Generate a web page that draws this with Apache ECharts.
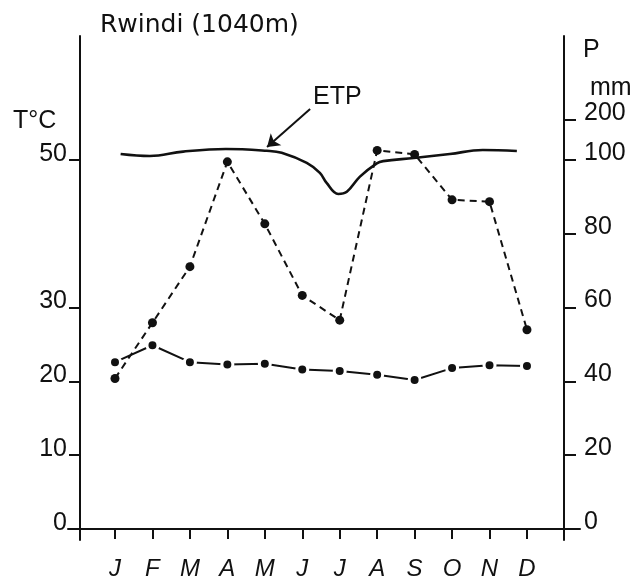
<!DOCTYPE html>
<html>
<head>
<meta charset="utf-8">
<script src="https://cdn.jsdelivr.net/npm/echarts@6/dist/echarts.min.js"></script>
<style>
  html, body { margin: 0; padding: 0; background: #fff; }
  #chart { width: 634px; height: 576px; }
</style>
</head>
<body>
<div id="chart"></div>
<script>
  var months = ['J', 'F', 'M', 'A', 'M', 'J', 'J', 'A', 'S', 'O', 'N', 'D'];
  // P (mm), monthly precipitation
  var precip = [40.8, 55.9, 71.1, 99.5, 82.7, 63.3, 56.6, 124, 114, 89.2, 88.7, 54];
  // T (°C), monthly mean temperature
  var temp = [22.6, 24.9, 22.6, 22.3, 22.4, 21.6, 21.4, 20.9, 20.2, 21.8, 22.2, 22.1];
  // ETP curve (mm), sampled along the month axis
  var etpMonth = [1.15, 1.93, 2.82, 3.96, 5.05, 5.45, 6.12, 6.47, 6.65, 6.96, 7.19, 7.54, 7.99, 8.16, 8.98, 9.94, 10.82, 11.73];
  var etpMm = [115, 110, 121, 127.5, 123, 118, 99.2, 96.5, 93.8, 90.8, 91.4, 95.5, 99.1, 99.7, 105, 115, 125, 122.5];

  var tempTicks = [0, 10, 20, 30, 50];
  var precipTicks = [0, 20, 40, 60, 80, 100, 200];

  // right axis is broken above 100 mm: 100..200 squeezed
  function toAxis(p) {
    return p <= 100 ? p : 100 + (p - 100) * 0.1084;
  }

  var ink = '#111';
  var font = '"Liberation Sans", Arial, sans-serif';
  var monthIdx = months.map(function (m, i) { return i + 1; });
  var pAxisTicks = precipTicks.map(toAxis);

  var chart = echarts.init(document.getElementById('chart'));
  chart.setOption({
    animation: false,
    backgroundColor: '#fff',
    title: {
      text: 'Rwindi (1040m)',
      left: 100,
      top: 13,
      padding: 0,
      textStyle: { fontFamily: '"DejaVu Sans", sans-serif', fontSize: 25, fontWeight: 'normal', color: ink }
    },
    grid: { left: 68, right: 54, top: 36, bottom: 36, containLabel: false, outerBoundsMode: 'none' },
    xAxis: {
      type: 'value',
      min: -0.255,
      max: 13.416,
      splitLine: { show: false },
      axisLine: { onZero: true, onZeroAxisIndex: 0, lineStyle: { color: ink, width: 2 } },
      axisTick: { customValues: monthIdx, length: 10, lineStyle: { color: ink, width: 2 } },
      axisLabel: {
        customValues: monthIdx,
        formatter: function (v) { return months[Math.round(v) - 1]; },
        margin: 17,
        fontFamily: font,
        fontStyle: 'italic',
        fontSize: 24,
        color: ink
      }
    },
    yAxis: [{
      type: 'value',
      position: 'left',
      min: -1.49,
      max: 66.8,
      offset: -12,
      splitLine: { show: false },
      axisLine: { show: true, onZero: false, lineStyle: { color: ink, width: 2 } },
      axisTick: { show: true, customValues: tempTicks, length: 11, lineStyle: { color: ink, width: 2 } },
      axisLabel: {
        customValues: tempTicks,
        margin: 13,
        verticalAlign: 'bottom',
        lineHeight: 12,
        fontFamily: font,
        fontSize: 25,
        color: ink
      }
    }, {
      type: 'value',
      position: 'right',
      min: -2.98,
      max: 133.6,
      offset: -16,
      splitLine: { show: false },
      axisLine: { show: true, onZero: false, lineStyle: { color: ink, width: 2 } },
      axisTick: { show: true, customValues: pAxisTicks, length: 12, lineStyle: { color: ink, width: 2 } },
      axisLabel: {
        customValues: pAxisTicks,
        formatter: function (v) {
          var i = pAxisTicks.indexOf(v);
          return i >= 0 ? String(precipTicks[i]) : '';
        },
        margin: 20,
        verticalAlign: 'bottom',
        lineHeight: 14,
        fontFamily: font,
        fontSize: 25,
        color: ink
      }
    }],
    graphic: [
      { type: 'text', left: 13, top: 121.5 - 12.5, style: { text: 'T°C', font: '25px ' + font, fill: ink } },
      { type: 'text', left: 583, top: 50 - 12.5, style: { text: 'P', font: '25px ' + font, fill: ink } },
      { type: 'text', left: 590, top: 88 - 12.5, style: { text: 'mm', font: '25px ' + font, fill: ink } },
      { type: 'text', left: 313, top: 97 - 12.5, style: { text: 'ETP', font: '25px ' + font, fill: ink } }
    ],
    series: [{
      name: 'T',
      type: 'line',
      yAxisIndex: 0,
      data: temp.map(function (v, i) { return [i + 1, v]; }),
      symbol: 'circle',
      symbolSize: 11,
      itemStyle: { color: ink, borderColor: '#fff', borderWidth: 3 },
      lineStyle: { color: ink, width: 2 },
      silent: true,
      z: 2
    }, {
      name: 'P',
      type: 'line',
      yAxisIndex: 1,
      data: precip.map(function (v, i) { return [i + 1, toAxis(v)]; }),
      symbol: 'circle',
      symbolSize: 9,
      itemStyle: { color: ink },
      lineStyle: { color: ink, width: 2, type: [7, 5] },
      silent: true,
      z: 3
    }, {
      name: 'ETP',
      type: 'line',
      yAxisIndex: 1,
      smooth: 0.4,
      showSymbol: false,
      data: etpMonth.map(function (m, i) { return [m, toAxis(etpMm[i])]; }),
      lineStyle: { color: ink, width: 2.6 },
      silent: true,
      z: 4,
      markLine: {
        silent: true,
        symbol: ['none', 'arrow'],
        symbolSize: 12,
        label: { show: false },
        lineStyle: { color: ink, width: 2, type: 'solid' },
        data: [[{ coord: [6.21, 113.8] }, { coord: [5.06, 103.5] }]]
      }
    }]
  });
</script>
</body>
</html>
